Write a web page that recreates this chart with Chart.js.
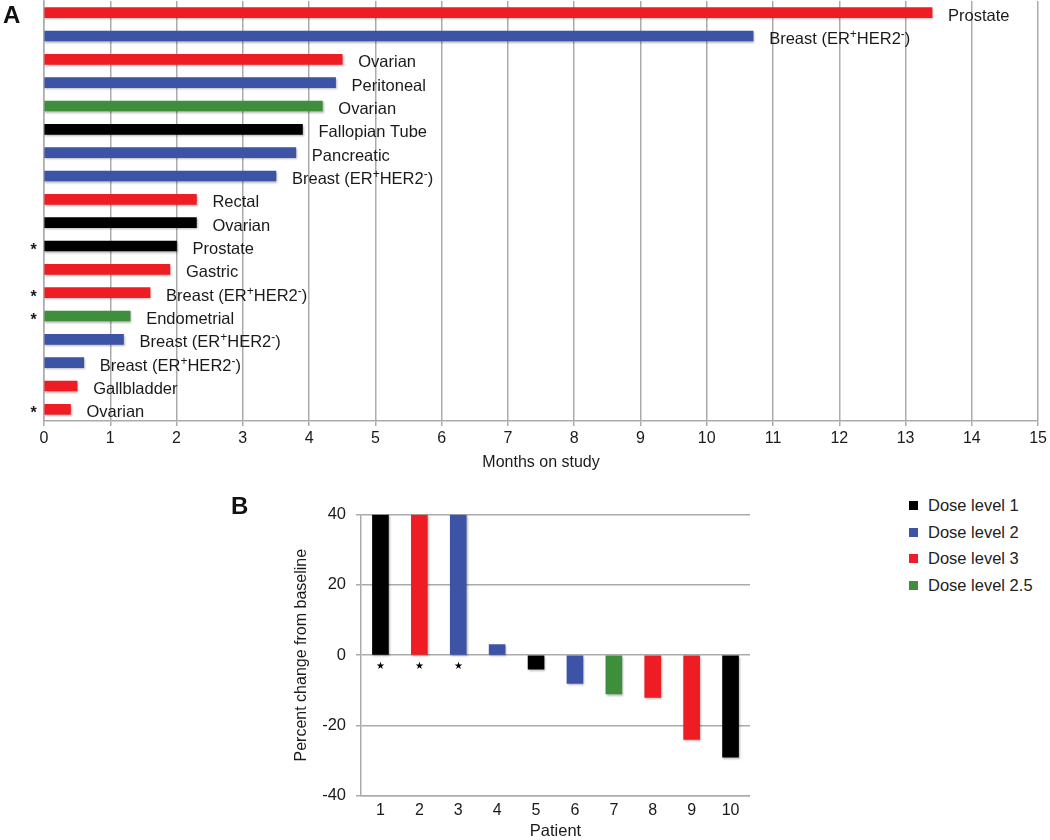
<!DOCTYPE html>
<html>
<head>
<meta charset="utf-8">
<script src="https://cdn.jsdelivr.net/npm/chart.js@4.4.1/dist/chart.umd.min.js"></script>
<style>
html,body{margin:0;padding:0;background:#fff;overflow:hidden;width:1050px;height:840px;}
#cA{position:absolute;left:0;top:0;}
#cB{position:absolute;left:230px;top:480px;}
.panel{position:absolute;font-family:'Liberation Sans',Arial,Helvetica,sans-serif;font-weight:bold;font-size:24px;color:#111;line-height:1;}
#legend{position:absolute;left:909px;top:492.8px;font-family:'Liberation Sans',Arial,Helvetica,sans-serif;font-size:16.5px;color:#222;}
#legend .row{height:26.4px;display:flex;align-items:center;white-space:nowrap;}
#legend .sw{display:inline-block;width:9px;height:9px;margin-right:10px;}
</style>
</head>
<body>
<canvas id="cA" width="1050" height="480"></canvas>
<canvas id="cB" width="520" height="360"></canvas>
<div class="panel" style="left:3px;top:3px;">A</div>
<div class="panel" style="left:231px;top:494px;">B</div>
<div id="legend"></div>
<script>
// ---------- Panel A data ----------
const tumorTypes = [
  'Prostate', 'Breast (ER{+}HER2{-})', 'Ovarian', 'Peritoneal', 'Ovarian',
  'Fallopian Tube', 'Pancreatic', 'Breast (ER{+}HER2{-})', 'Rectal', 'Ovarian',
  'Prostate', 'Gastric', 'Breast (ER{+}HER2{-})', 'Endometrial',
  'Breast (ER{+}HER2{-})', 'Breast (ER{+}HER2{-})', 'Gallbladder', 'Ovarian'
];
const monthsOnStudy = [13.4, 10.7, 4.5, 4.4, 4.2, 3.9, 3.8, 3.5, 2.3, 2.3, 2.0, 1.9, 1.6, 1.3, 1.2, 0.6, 0.5, 0.4];
const doseLevelA = [3, 2, 3, 2, 2.5, 1, 2, 2, 3, 1, 1, 3, 3, 2.5, 2, 2, 3, 3];
const asteriskA = [false, false, false, false, false, false, false, false, false, false, true, false, true, true, false, false, false, true];
const monthsMin = 0;
const monthsMax = 15;
const monthsStep = 1;

// ---------- Panel B data ----------
const patients = ['1', '2', '3', '4', '5', '6', '7', '8', '9', '10'];
const percentChange = [40, 40, 40, 3, -4, -8, -11, -12, -24, -29];
const doseLevelB = [1, 3, 2, 2, 1, 2, 2.5, 3, 3, 1];
const starredB = [true, true, true, false, false, false, false, false, false, false];
const pctMin = -40;
const pctMax = 40;
const pctStep = 20;

// ---------- Legend ----------
const legendDoseLevels = [1, 2, 3, 2.5];
const legendLabels = ['Dose level 1', 'Dose level 2', 'Dose level 3', 'Dose level 2.5'];

// ---------- Styles ----------
const FONT = "'Liberation Sans', Arial, Helvetica, sans-serif";
const doseColor = {1: '#000000', 2: '#3D53A6', 3: '#EE1D24', 2.5: '#3E8E3C'};
const GRID = '#ababab';
const TEXT = '#1a1a1a';
Chart.defaults.font.family = FONT;
Chart.defaults.color = TEXT;

function plain(s){ return s.replace(/[{}]/g, ''); }

const shadowPlugin = {
  id: 'barShadow',
  beforeDatasetsDraw(chart){
    const c = chart.ctx; c.save();
    c.shadowColor = 'rgba(0,0,0,0.28)'; c.shadowBlur = 2; c.shadowOffsetX = 1; c.shadowOffsetY = 1.5;
  },
  afterDatasetsDraw(chart){ chart.ctx.restore(); }
};

function drawRich(ctx, text, x, y){
  const parts = text.split(/(\{[^}]*\})/).filter(p => p.length);
  let cx = x;
  for (const p of parts){
    if (p.startsWith('{')){
      const t = p.slice(1, -1);
      ctx.font = '12px ' + FONT;
      ctx.fillText(t, cx, y - 6);
      cx += ctx.measureText(t).width;
    } else {
      ctx.font = '16.5px ' + FONT;
      ctx.fillText(p, cx, y);
      cx += ctx.measureText(p).width;
    }
  }
}

const labelsA = {
  id: 'labelsA',
  afterDatasetsDraw(chart){
    const c = chart.ctx;
    const meta = chart.getDatasetMeta(0);
    c.save();
    c.fillStyle = TEXT;
    c.textBaseline = 'alphabetic';
    c.textAlign = 'left';
    meta.data.forEach((bar, i) => {
      drawRich(c, tumorTypes[i], bar.x + 16, bar.y + 8);
      if (asteriskA[i]){
        c.font = 'bold 16px ' + FONT;
        c.textAlign = 'center';
        c.fillText('*', 33.5, bar.y + 9);
        c.textAlign = 'left';
      }
    });
    c.restore();
  }
};

new Chart(document.getElementById('cA'), {
  type: 'bar',
  data: {
    labels: tumorTypes.map(plain),
    datasets: [{
      data: monthsOnStudy,
      backgroundColor: doseLevelA.map(d => doseColor[d]),
      borderWidth: 0,
      barThickness: 10
    }]
  },
  options: {
    indexAxis: 'y',
    responsive: false,
    animation: false,
    layout: {padding: {top: 1, right: 10, left: 0, bottom: 0}},
    plugins: {legend: {display: false}, tooltip: {enabled: false}},
    scales: {
      x: {
        min: monthsMin, max: monthsMax,
        ticks: {stepSize: monthsStep, font: {size: 16}, color: TEXT, padding: 3},
        grid: {color: GRID, lineWidth: 1.5, tickLength: 5},
        border: {color: GRID, width: 1.5},
        title: {display: true, text: 'Months on study', font: {size: 16}, color: TEXT, padding: {top: 0, bottom: 7.4}},
        afterFit(s){ s.height = 59; }
      },
      y: {
        ticks: {display: false},
        grid: {display: false},
        border: {display: true, color: GRID, width: 1.5},
        afterFit(s){ s.width = 44; }
      }
    }
  },
  plugins: [shadowPlugin, labelsA]
});

const starsB = {
  id: 'starsB',
  afterDatasetsDraw(chart){
    const c = chart.ctx;
    const meta = chart.getDatasetMeta(0);
    const y0 = chart.scales.y.getPixelForValue(0);
    c.save();
    c.fillStyle = '#000';
    c.font = '10px ' + FONT;
    c.textAlign = 'center';
    c.textBaseline = 'middle';
    meta.data.forEach((bar, i) => {
      if (starredB[i]) c.fillText('★', bar.x, y0 + 11);
    });
    c.restore();
  }
};

new Chart(document.getElementById('cB'), {
  type: 'bar',
  data: {
    labels: patients,
    datasets: [{
      data: percentChange,
      backgroundColor: doseLevelB.map(d => doseColor[d]),
      borderWidth: 0,
      barThickness: 16
    }]
  },
  options: {
    responsive: false,
    animation: false,
    layout: {padding: {top: 34.7, right: 0, left: 0, bottom: 0}},
    plugins: {legend: {display: false}, tooltip: {enabled: false}},
    scales: {
      y: {
        min: pctMin, max: pctMax,
        ticks: {stepSize: pctStep, font: {size: 16.5}, color: TEXT, padding: 10},
        grid: {color: GRID, lineWidth: 1.5, tickLength: 5},
        border: {color: GRID, width: 1.5},
        title: {display: true, text: 'Percent change from baseline', font: {size: 16}, color: TEXT, padding: {top: 61.6, bottom: 0}},
        afterFit(s){ s.width = 131; }
      },
      x: {
        grid: {drawOnChartArea: false, drawTicks: false, color: GRID},
        border: {color: GRID, width: 1.5},
        ticks: {font: {size: 16}, color: TEXT, padding: 5.5},
        title: {display: true, text: 'Patient', font: {size: 16.5, lineHeight: 1}, color: TEXT, padding: {top: 0, bottom: 0}},
        afterFit(s){ s.height = 44.3; }
      }
    }
  },
  plugins: [shadowPlugin, starsB]
});

// HTML legend
const lg = document.getElementById('legend');
legendDoseLevels.forEach((d, i) => {
  const row = document.createElement('div'); row.className = 'row';
  const sw = document.createElement('span'); sw.className = 'sw'; sw.style.background = doseColor[d];
  row.appendChild(sw);
  row.appendChild(document.createTextNode(legendLabels[i]));
  lg.appendChild(row);
});
</script>
</body>
</html>
